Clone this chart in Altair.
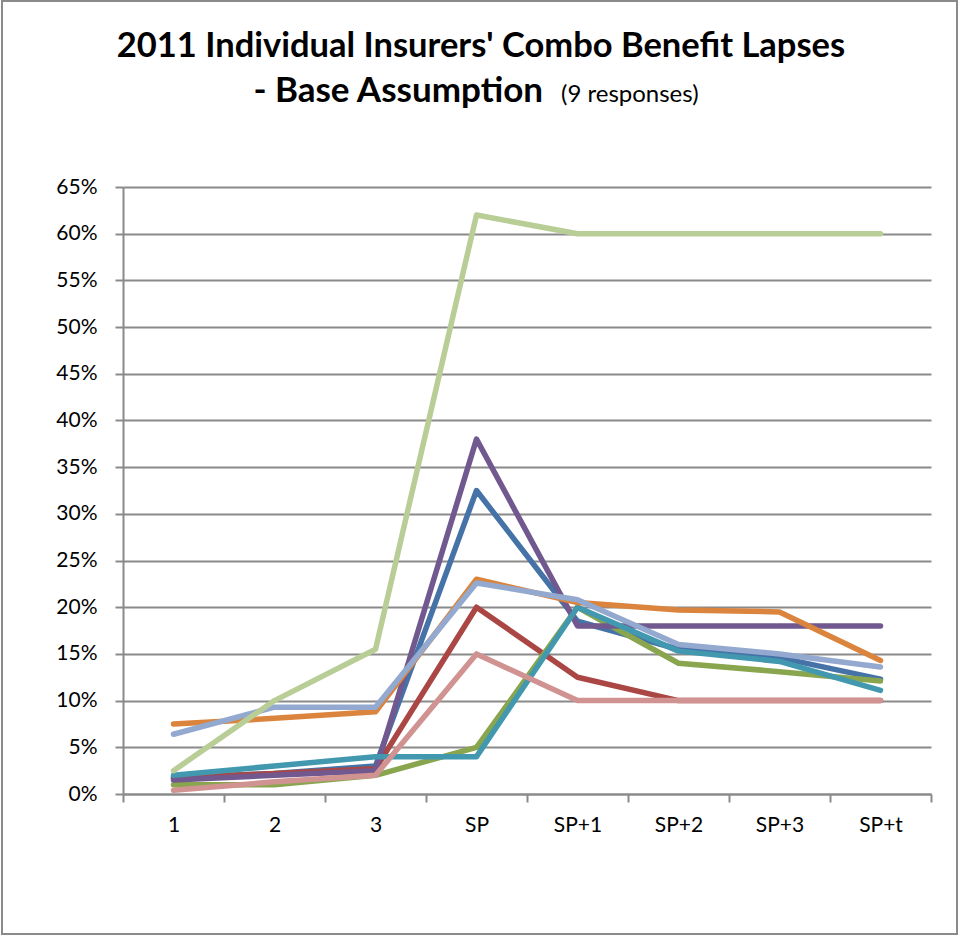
import altair as alt
import pandas as pd

# Policy-year periods around the shock point (SP)
periods = ["1", "2", "3", "SP", "SP+1", "SP+2", "SP+3", "SP+t"]

# Lapse rates (%) for each of the nine responding insurers
insurer_1 = [1.8, 2.2, 3.0, 32.5, 18.5, 15.5, 14.6, 12.3]
insurer_2 = [1.7, 2.2, 2.7, 20.0, 12.5, 10.0, 10.0, 10.0]
insurer_3 = [1.0, 1.0, 2.0, 5.0, 20.0, 14.0, 13.1, 12.1]
insurer_4 = [1.5, 2.0, 2.5, 38.0, 18.0, 18.0, 18.0, 18.0]
insurer_5 = [2.0, 3.0, 4.0, 4.0, 20.0, 15.3, 14.2, 11.1]
insurer_6 = [7.5, 8.1, 8.8, 23.0, 20.5, 19.7, 19.5, 14.3]
insurer_7 = [6.4, 9.3, 9.3, 22.6, 20.8, 16.0, 15.0, 13.6]
insurer_8 = [0.4, 1.3, 2.0, 15.0, 10.0, 10.0, 10.0, 10.0]
insurer_9 = [2.5, 10.0, 15.5, 62.0, 60.0, 60.0, 60.0, 60.0]

series = {
    "Insurer 1": insurer_1,
    "Insurer 2": insurer_2,
    "Insurer 3": insurer_3,
    "Insurer 4": insurer_4,
    "Insurer 5": insurer_5,
    "Insurer 6": insurer_6,
    "Insurer 7": insurer_7,
    "Insurer 8": insurer_8,
    "Insurer 9": insurer_9,
}
colors = ["#4572A7", "#AA4643", "#89A54E", "#71588F", "#4198AF",
          "#DB843D", "#93A9CF", "#D19392", "#B9CD96"]
y_ticks = [i * 0.05 for i in range(14)]

rows = []
for name, vals in series.items():
    for p, v in zip(periods, vals):
        rows.append({"insurer": name, "period": p, "lapse": v / 100})
df = pd.DataFrame(rows)

FONT = "Lato"
GRID = "#8a8a8a"

lines = alt.Chart(df).mark_line(strokeWidth=5.5, strokeCap="round", strokeJoin="round").encode(
    x=alt.X(
        "period:N",
        sort=periods,
        bandPosition=0.5,
        scale=alt.Scale(type="band", paddingInner=0, paddingOuter=0),
        axis=alt.Axis(
            title=None, labelAngle=0, tickBand="extent", tickSize=8,
            tickColor=GRID, tickWidth=2, domainColor=GRID, domainWidth=2,
            labelFont=FONT, labelFontSize=21, labelColor="black", labelPadding=12,
            grid=False,
        ),
    ),
    y=alt.Y(
        "lapse:Q",
        scale=alt.Scale(domain=[0, 0.65], nice=False),
        axis=alt.Axis(
            title=None, format=".0%", values=y_ticks, tickSize=8,
            tickColor=GRID, tickWidth=2, domainColor=GRID, domainWidth=2,
            gridColor=GRID, gridWidth=2, gridOpacity=1,
            labelFont=FONT, labelFontSize=21, labelColor="black", labelPadding=18,
        ),
    ),
    color=alt.Color("insurer:N", scale=alt.Scale(domain=list(series.keys()), range=colors), legend=None),
    order=alt.Order("insurer:N"),
)

one = alt.Data(values=[{}])

frame = alt.Chart(one).mark_rect(fill="transparent", stroke="#8a8a8a", strokeWidth=2).encode(
    x=alt.value(-121), x2=alt.value(834), y=alt.value(-186), y2=alt.value(747)
)

title1 = alt.Chart(one).mark_text(
    text="2011 Individual Insurers' Combo Benefit Lapses",
    font=FONT, fontSize=34.5, fontWeight="bold", align="center", baseline="alphabetic", color="black",
).encode(x=alt.value(358), y=alt.value(-130))

title2 = alt.Chart(one).mark_text(
    text="- Base Assumption",
    font=FONT, fontSize=35, fontWeight="bold", align="right", baseline="alphabetic", color="black",
).encode(x=alt.value(420), y=alt.value(-85))

title3 = alt.Chart(one).mark_text(
    text="(9 responses)",
    font=FONT, fontSize=24, align="left", baseline="alphabetic", color="black",
).encode(x=alt.value(438), y=alt.value(-85))

chart = alt.layer(frame, lines, title1, title2, title3).properties(
    width=808, height=607,
    autosize=alt.AutoSizeParams(type="none"),
    padding={"left": 123, "top": 187, "right": 28, "bottom": 142},
    background="white",
).configure_view(stroke="transparent")

chart.save("out.html", embed_options={"renderer": "svg", "actions": False})
